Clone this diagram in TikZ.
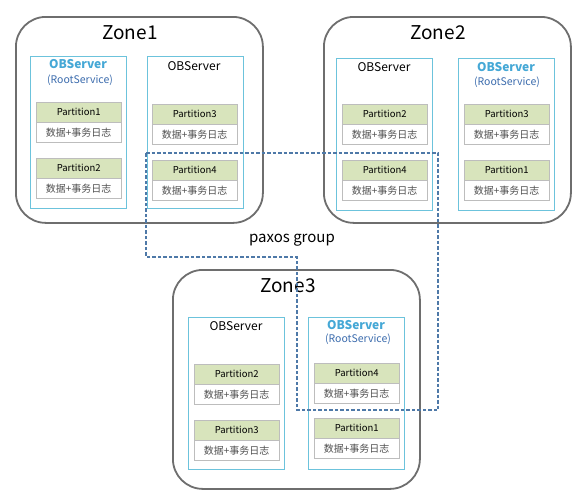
\documentclass[tikz,border=0pt]{standalone}
\usepackage{fontspec}
\setmainfont{Noto Sans CJK SC}

\definecolor{zonegray}{HTML}{6E6E6E}
\definecolor{serverblue}{HTML}{6CC3DC}
\definecolor{rootcyan}{HTML}{45A8D6}
\definecolor{rootblue}{HTML}{3D6DAE}
\definecolor{partgray}{HTML}{BDBDBD}
\definecolor{partgreen}{HTML}{D8E4BC}
\definecolor{bodytext}{HTML}{505050}
\definecolor{paxosblue}{HTML}{4E79A8}

\tikzset{
  zone/.style={draw=zonegray, line width=1.8pt, rounded corners=30pt,
    minimum width=247pt, anchor=north west, inner sep=0pt},
  zonetitle/.style={font=\fontsize{19}{22}\selectfont},
  server/.style={draw=serverblue, line width=1pt, minimum width=96pt,
    minimum height=152pt, anchor=north west, inner sep=0pt},
  srvname/.style={font=\fontsize{12}{14}\selectfont, inner sep=0pt},
  rootname/.style={font=\fontsize{12}{14}\selectfont\bfseries, text=rootcyan, inner sep=0pt},
  rootnote/.style={font=\fontsize{10.5}{12}\selectfont, text=rootblue, inner sep=0pt},
  parthead/.style={draw=partgray, fill=partgreen, minimum width=85pt,
    minimum height=20pt, inner sep=0pt, font=\fontsize{9.5}{11}\selectfont},
  partbody/.style={draw=partgray, fill=white, minimum width=85pt,
    minimum height=20pt, inner sep=0pt, text=bodytext,
    font=\fontsize{10}{11}\selectfont},
  paxos/.style={draw=paxosblue, line width=1.2pt, dash pattern=on 3.5pt off 2pt},
}

% one partition: name, left x, top y, label
\newcommand{\partition}[4]{%
  \node[parthead, anchor=north west] (#1) at (#2,#3) {#4};
  \node[partbody, anchor=north] (#1d) at (#1.south) {数据+事务日志};
}

\begin{document}
\begin{tikzpicture}[x=1pt,y=-1pt]
\useasboundingbox[fill=white] (0,0) rectangle (578,496);

% zones
\node[zone, minimum height=206pt] (zoneA) at (15,16) {};
\node[zonetitle] (zoneAt) at (130,33) {Zone1};
\node[zone, minimum height=206pt] (zoneB) at (323,16) {};
\node[zonetitle] (zoneBt) at (438,33) {Zone2};
\node[zone, minimum height=219pt] (zoneC) at (172,269) {};
\node[zonetitle] (zoneCt) at (288,286) {Zone3};

% Zone1 servers
\node[server] (srvAa) at (30,56) {};
\node[rootname] (srvAan) at (78,64) {OBServer};
\node[rootnote] (srvAar) at (80,80) {(RootService)};
\partition{pAa}{36}{102}{Partition1}
\partition{pAb}{36}{158}{Partition2}

\node[server] (srvAb) at (147,56) {};
\node[srvname] (srvAbn) at (194,66) {OBServer};
\partition{pAc}{152}{104}{Partition3}
\partition{pAd}{152}{160}{Partition4}

% Zone2 servers
\node[server] (srvBa) at (336,58) {};
\node[srvname] (srvBan) at (384,67) {OBServer};
\partition{pBa}{342}{104}{Partition2}
\partition{pBb}{342}{160}{Partition4}

\node[server] (srvBb) at (458,58) {};
\node[rootname] (srvBbn) at (506,67) {OBServer};
\node[rootnote] (srvBbr) at (507,82) {(RootService)};
\partition{pBc}{464}{104}{Partition3}
\partition{pBd}{464}{160}{Partition1}

% Zone3 servers
\node[server] (srvCa) at (188,317) {};
\node[srvname] (srvCan) at (236,326) {OBServer};
\partition{pCa}{194}{364}{Partition2}
\partition{pCb}{194}{420}{Partition3}

\node[server] (srvCb) at (308,317) {};
\node[rootname] (srvCbn) at (356,325) {OBServer};
\node[rootnote] (srvCbr) at (358,339) {(RootService)};
\partition{pCc}{314}{363}{Partition4}
\partition{pCd}{314}{418}{Partition1}

% paxos group
\node[font=\fontsize{15}{18}\selectfont] (paxosl) at (292,240) {paxos group};
\draw[paxos] (146,153) -- (438,153) -- (438,410) -- (297,410)
  -- (297,257) -- (146,257) -- cycle;

\end{tikzpicture}
\end{document}
